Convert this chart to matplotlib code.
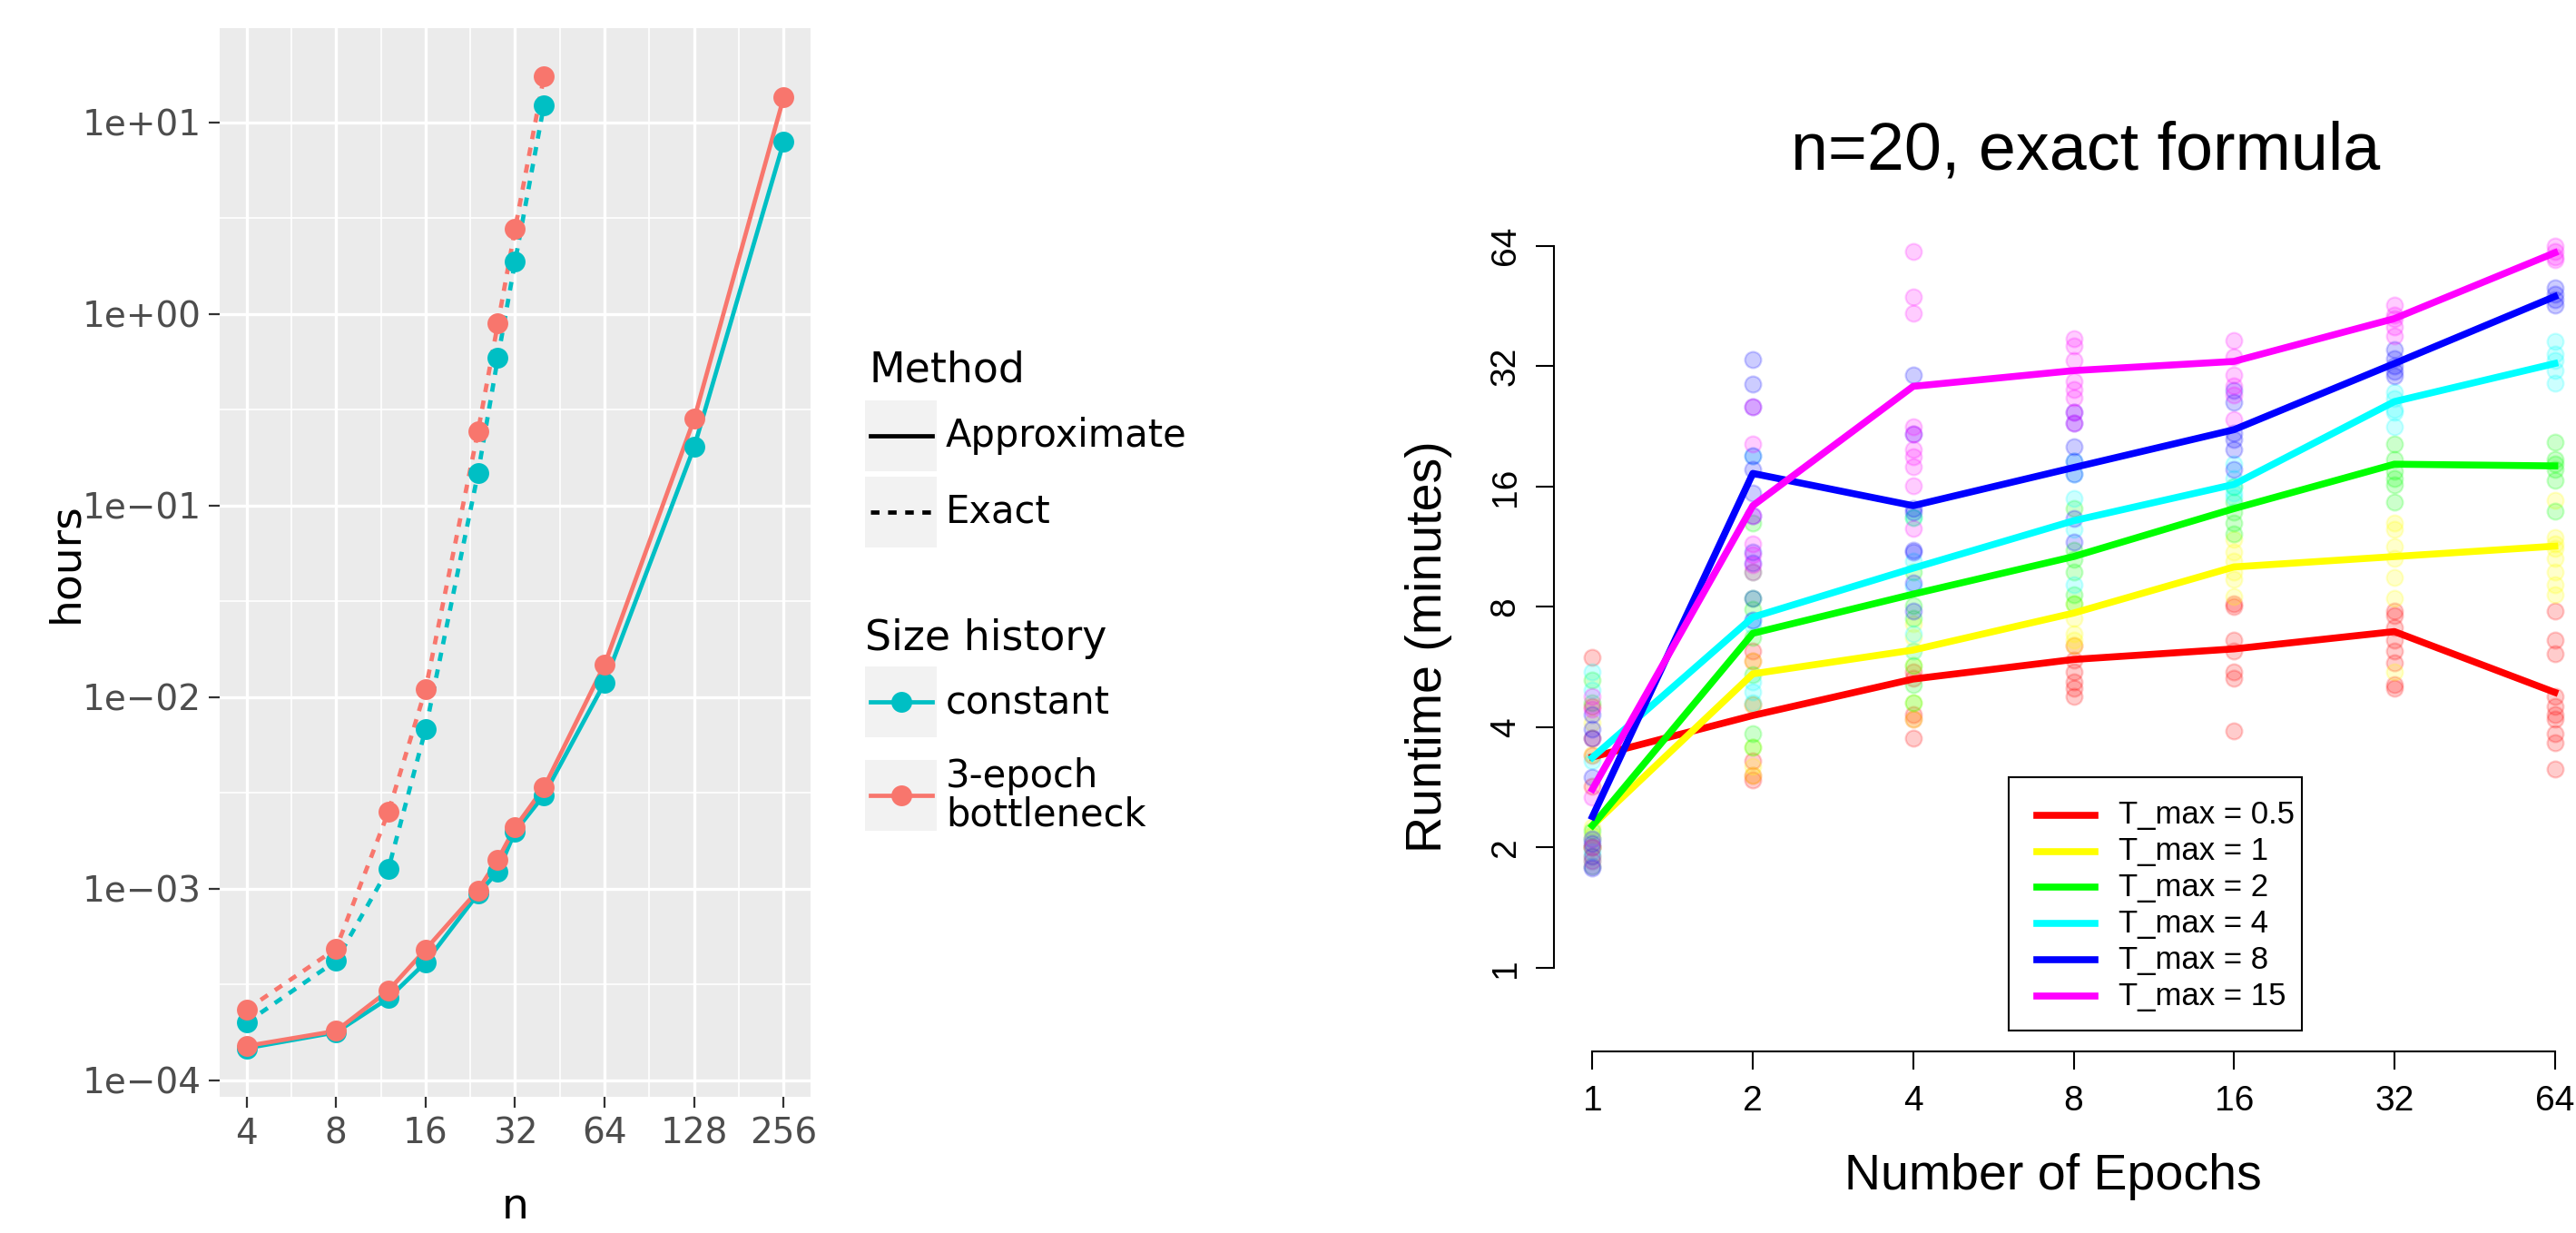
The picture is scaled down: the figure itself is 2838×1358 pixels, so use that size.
import numpy as np
import matplotlib
matplotlib.use('Agg')
import matplotlib.pyplot as plt
from matplotlib.ticker import FixedLocator, NullFormatter, FuncFormatter
from matplotlib.patches import Rectangle

W, H = 2838, 1358
DPI = 100

# ---- left panel: run time in hours vs n ----
n_exact = [4, 8, 12, 16, 24, 28, 32, 40]
n_approx = [4, 8, 12, 16, 24, 28, 32, 40, 64, 128, 256]
exact_constant = [2.0e-4, 4.2e-4, 1.27e-3, 6.8e-3, 0.147, 0.59, 1.88, 12.3]
exact_bottleneck = [2.34e-4, 4.86e-4, 2.52e-3, 1.1e-2, 0.243, 0.89, 2.78, 17.3]
approx_constant = [1.47e-4, 1.78e-4, 2.68e-4, 4.12e-4, 9.4e-4, 1.23e-3, 1.99e-3,
                   3.08e-3, 1.19e-2, 0.202, 7.9]
approx_bottleneck = [1.51e-4, 1.81e-4, 2.94e-4, 4.82e-4, 9.8e-4, 1.42e-3, 2.09e-3,
                     3.37e-3, 1.48e-2, 0.283, 13.5]
n_ticks = [4, 8, 16, 32, 64, 128, 256]
hour_ticks = [1e-4, 1e-3, 1e-2, 1e-1, 1e0, 1e1]

TEAL = '#00BFC4'
SALMON = '#F8766D'

# ---- right panel: runtime in minutes vs number of epochs ----
epochs = [1, 2, 4, 8, 16, 32, 64]
runtime_ticks = [1, 2, 4, 8, 16, 32, 64]
tmax_labels = ['T_max = 0.5', 'T_max = 1', 'T_max = 2', 'T_max = 4', 'T_max = 8', 'T_max = 15']
tmax_colors = ['#FF0000', '#FFFF00', '#00FF00', '#00FFFF', '#0000FF', '#FF00FF']

line_05 = [3.37, 4.28, 5.28, 5.91, 6.28, 6.94, 4.89]
line_1 = [2.27, 5.44, 6.24, 7.72, 10.07, 10.69, 11.35]
line_2 = [2.27, 6.87, 8.61, 10.69, 14.09, 18.2, 18.02]
line_4 = [3.36, 7.54, 10.0, 13.14, 16.2, 26.1, 32.5]
line_8 = [2.39, 17.26, 14.33, 17.85, 22.2, 32.5, 47.8]
line_15 = [2.80, 14.33, 28.5, 31.2, 32.9, 42.1, 61.5]

runs_05 = [[5.97, 4.5, 3.75, 3.4, 2.84, 2.0, 1.8],
           [6.2, 5.86, 4.56, 3.3, 3.03, 2.95],
           [5.5, 5.3, 4.3, 4.2, 3.75],
           [6.4, 5.88, 5.5, 5.2, 5.0, 4.77],
           [8.15, 8.0, 6.6, 6.2, 5.5, 5.3, 3.92],
           [7.8, 7.6, 7.1, 6.6, 6.2, 5.8, 5.1, 5.0],
           [7.8, 6.6, 6.1, 4.77, 4.5, 4.3, 4.2, 3.86, 3.65, 3.15]]
runs_1 = [[4.1, 3.42, 2.25, 2.15, 2.0, 1.9],
          [5.86, 4.56, 3.56, 3.2, 3.03],
          [7.27, 6.7, 6.2, 5.7, 4.6, 4.2],
          [8.15, 7.5, 6.87, 6.6, 6.4],
          [11.8, 11.0, 10.4, 9.8, 9.4, 8.5],
          [13.0, 12.5, 11.3, 10.6, 9.5, 8.4, 5.5],
          [14.8, 11.9, 11.5, 11.2, 10.6, 9.8, 9.1, 8.6]]
runs_2 = [[5.26, 4.6, 2.2, 2.1, 2.0, 1.85],
          [13.0, 9.8, 8.4, 7.9, 6.7, 5.42, 3.86, 3.56],
          [13.4, 9.8, 8.05, 7.5, 5.7, 5.1, 4.6],
          [14.1, 11.1, 10.5, 9.8, 8.6, 8.15],
          [16.0, 14.6, 13.8, 13.0, 12.2],
          [20.4, 18.7, 17.5, 16.8, 16.2, 14.6],
          [20.7, 18.7, 18.2, 17.7, 16.6, 13.9]]
runs_4 = [[5.5, 4.95, 3.3, 2.1, 1.95, 1.8],
          [19.1, 7.4, 7.2, 5.2, 4.9, 4.6],
          [13.4, 10.4, 9.0, 6.87, 6.2],
          [18.5, 17.2, 14.9, 12.5, 9.1],
          [18.2, 16.8, 16.0, 15.4, 15.0],
          [27.5, 26.5, 25.0, 24.5, 22.6],
          [37.0, 34.4, 33.0, 31.2, 29.0]]
runs_8 = [[4.3, 3.96, 3.75, 3.0, 2.05, 1.9, 1.78],
          [33.2, 28.8, 25.3, 19.1, 17.7, 15.4, 13.5, 11.0, 10.3, 8.4, 7.4],
          [30.4, 21.6, 14.1, 13.8, 11.1, 11.0, 9.2, 7.8],
          [24.5, 23.1, 20.1, 18.5, 17.2, 13.3, 11.6],
          [27.8, 26.0, 21.8, 21.0, 19.8, 17.7],
          [35.3, 33.5, 32.0, 31.0, 30.3],
          [50.3, 48.5, 47.0, 45.6]]
runs_15 = [[4.77, 4.44, 2.67, 2.1, 2.0, 1.85],
           [25.3, 20.4, 13.5, 11.5, 10.8, 10.2, 9.8],
           [62.0, 47.6, 43.4, 22.6, 21.6, 19.8, 19.0, 17.9, 16.1, 12.6],
           [37.5, 36.0, 33.0, 29.4, 28.0, 26.7, 24.5, 23.1],
           [37.1, 33.7, 30.4, 28.5, 27.1, 23.5],
           [45.6, 43.0, 42.0, 40.2, 38.0],
           [64.0, 62.0, 60.0, 59.0]]

tmax_lines = [line_05, line_1, line_2, line_4, line_8, line_15]
tmax_runs = [runs_05, runs_1, runs_2, runs_4, runs_8, runs_15]


def px_axes(fig, left, top, right, bottom):
    """Add axes using pixel edges measured from the top-left of the figure."""
    return fig.add_axes([left / W, 1 - bottom / H, (right - left) / W, (bottom - top) / H])


fig = plt.figure(figsize=(W / DPI, H / DPI), dpi=DPI)

# ==========================================
# Left panel (ggplot style)
# ==========================================
LEFT_FONT = ['DejaVu Sans']
ax1 = px_axes(fig, 242, 31, 893, 1208)
ax1.set_facecolor('#EBEBEB')
for s in ax1.spines.values():
    s.set_visible(False)
ax1.set_xscale('log', base=2)
ax1.set_yscale('log')

# ggplot style 5% expansion of the data range in transformed space
all_h = np.concatenate([exact_constant, exact_bottleneck, approx_constant, approx_bottleneck])
lo, hi = np.log10(all_h.min()), np.log10(all_h.max())
pad = 0.05 * (hi - lo)
ax1.set_ylim(10 ** (lo - pad), 10 ** (hi + pad))
xlo, xhi = np.log2(min(n_approx)), np.log2(max(n_approx))
xpad = 0.05 * (xhi - xlo)
ax1.set_xlim(2 ** (xlo - xpad), 2 ** (xhi + xpad))

ax1.xaxis.set_major_locator(FixedLocator(n_ticks))
ax1.xaxis.set_major_formatter(FuncFormatter(lambda v, p: f'{int(round(v))}'))
ax1.xaxis.set_minor_locator(FixedLocator([2 ** (k + 0.5) for k in range(2, 8)]))
ax1.xaxis.set_minor_formatter(NullFormatter())
ax1.yaxis.set_major_locator(FixedLocator(hour_ticks))
ax1.yaxis.set_major_formatter(FuncFormatter(lambda v, p: format(v, '.0e').replace('-', '\u2212')))
ax1.yaxis.set_minor_locator(FixedLocator([10 ** (k + 0.5) for k in range(-4, 1)]))
ax1.yaxis.set_minor_formatter(NullFormatter())

ax1.grid(which='major', color='white', linewidth=2.4)
ax1.grid(which='minor', color='white', linewidth=1.2)
ax1.set_axisbelow(True)
ax1.tick_params(which='major', length=8.5, width=1.6, color='#333333',
                labelsize=28, labelcolor='#4D4D4D')
ax1.tick_params(axis='y', pad=6)
ax1.tick_params(axis='x', pad=7)
ax1.tick_params(which='minor', length=0)
for lab in ax1.get_xticklabels() + ax1.get_yticklabels():
    lab.set_family(LEFT_FONT)

line_kw = dict(linewidth=3.4, solid_capstyle='butt')
ax1.plot(n_exact, exact_constant, color=TEAL, linestyle=(0, (2, 2)), **line_kw)
ax1.plot(n_exact, exact_bottleneck, color=SALMON, linestyle=(0, (2, 2)), **line_kw)
ax1.plot(n_approx, approx_constant, color=TEAL, **line_kw)
ax1.plot(n_approx, approx_bottleneck, color=SALMON, **line_kw)
pt_kw = dict(linestyle='none', marker='o', markersize=16.5, markeredgewidth=0)
ax1.plot(n_exact, exact_constant, color=TEAL, **pt_kw)
ax1.plot(n_approx, approx_constant, color=TEAL, **pt_kw)
ax1.plot(n_exact, exact_bottleneck, color=SALMON, **pt_kw)
ax1.plot(n_approx, approx_bottleneck, color=SALMON, **pt_kw)

ax1.set_xlabel('n', fontsize=34, family=LEFT_FONT, va='top')
ax1.xaxis.set_label_coords(0.5, -0.084)
ax1.set_ylabel('hours', fontsize=34, family=LEFT_FONT)
ax1.yaxis.set_label_coords(-0.225, 0.5)

# ==========================================
# Right panel (base R style)
# ==========================================
RIGHT_FONT = ['Liberation Sans', 'DejaVu Sans']
ax2 = px_axes(fig, 1712, 239, 2857, 1158)
ax2.set_xscale('log', base=2)
ax2.set_yscale('log', base=2)
ax2.set_xlim(2 ** -0.24, 2 ** 6.24)
ax2.set_ylim(2 ** -0.694, 2 ** 6.24)
ax2.spines['top'].set_visible(False)
ax2.spines['right'].set_visible(False)
ax2.spines['left'].set_bounds(min(runtime_ticks), max(runtime_ticks))
ax2.spines['bottom'].set_bounds(min(epochs), max(epochs))
for s in ('left', 'bottom'):
    ax2.spines[s].set_linewidth(1.5)

ax2.xaxis.set_major_locator(FixedLocator(epochs))
ax2.xaxis.set_major_formatter(FuncFormatter(lambda v, p: f'{int(round(v))}'))
ax2.xaxis.set_minor_locator(FixedLocator([]))
ax2.yaxis.set_major_locator(FixedLocator(runtime_ticks))
ax2.yaxis.set_major_formatter(FuncFormatter(lambda v, p: f'{int(round(v))}'))
ax2.yaxis.set_minor_locator(FixedLocator([]))
ax2.tick_params(which='major', length=14.4, width=1.5, labelsize=28)
ax2.tick_params(axis='y', labelrotation=90, pad=11)
ax2.tick_params(axis='x', pad=12)
for lab in ax2.get_xticklabels():
    lab.set_family(RIGHT_FONT)
for lab in ax2.get_yticklabels():
    lab.set_family(RIGHT_FONT)
    lab.set_verticalalignment('center')

for runs, col in zip(tmax_runs, tmax_colors):
    xs = np.repeat(epochs, [len(r) for r in runs])
    ys = np.concatenate(runs)
    ax2.scatter(xs, ys, s=165, color=col, alpha=0.2, linewidths=1.6, edgecolors=col, zorder=2)
for vals, col in zip(tmax_lines, tmax_colors):
    ax2.plot(epochs, vals, color=col, linewidth=5.5, zorder=3)

ax2.set_xlabel('Number of Epochs', fontsize=40, family=RIGHT_FONT, va='top')
ax2.xaxis.set_label_coords(0.48, -0.122)
ax2.set_ylabel('Runtime (minutes)', fontsize=40, family=RIGHT_FONT)
ax2.yaxis.set_label_coords(-0.098, 0.485)

# ==========================================
# Overlay in pixel coordinates: legends and title
# ==========================================
ov = fig.add_axes([0, 0, 1, 1], facecolor='none')
ov.set_xlim(0, W)
ov.set_ylim(H, 0)
ov.axis('off')

# left legend: Method
ov.text(958, 408, 'Method', fontsize=33, family=LEFT_FONT, va='center', ha='left')
method_rows = [(480, '-', 'Approximate'), (564, (0, (2, 2)), 'Exact')]
for yc, ls, lab in method_rows:
    ov.add_patch(Rectangle((953, yc - 39), 79, 78, facecolor='#F2F2F2', edgecolor='none'))
    ov.plot([959, 1027], [yc, yc], color='black', linestyle=ls, linewidth=3.4)
    ov.text(1042, yc, lab, fontsize=30, family=LEFT_FONT, va='center', ha='left')

# left legend: Size history
ov.text(953, 704, 'Size history', fontsize=33, family=LEFT_FONT, va='center', ha='left')
size_rows = [(773, TEAL, 'constant'), (876, SALMON, '3-epoch\nbottleneck')]
for yc, col, lab in size_rows:
    ov.add_patch(Rectangle((953, yc - 39), 79, 78, facecolor='#F2F2F2', edgecolor='none'))
    ov.plot([959, 1027], [yc, yc], color=col, linewidth=3.4)
    ov.plot([993], [yc], color=col, marker='o', markersize=16.5, markeredgewidth=0)
    ov.text(1042, yc, lab, fontsize=30, family=LEFT_FONT, va='center', ha='left',
            linespacing=1.0)

# right legend
ov.add_patch(Rectangle((2213, 856), 323, 279, facecolor='white', edgecolor='black',
                       linewidth=1.5, zorder=4))
leg_y = [898, 938, 977, 1017, 1057, 1097]
for yc, col, lab in zip(leg_y, tmax_colors, tmax_labels):
    ov.plot([2244, 2308], [yc, yc], color=col, linewidth=5.5, zorder=5)
    ov.text(2334, yc, lab, fontsize=25, family=RIGHT_FONT, va='center', ha='left', zorder=5)

# right title
ov.text(2298, 167, 'n=20, exact formula', fontsize=53, family=RIGHT_FONT,
        va='center', ha='center')

fig.savefig('out.png', dpi=DPI)
